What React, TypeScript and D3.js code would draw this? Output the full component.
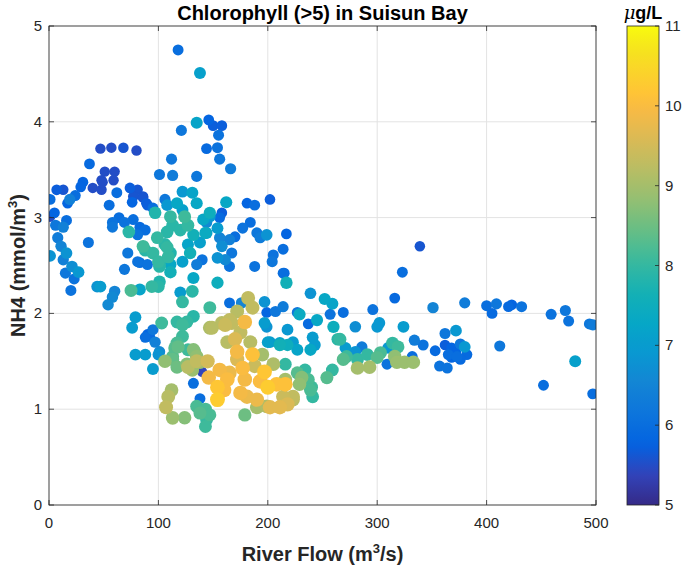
import * as d3 from "d3";

// each point: [river flow (m3/s), NH4 (mmol/m3), chlorophyll (ug/L)]
const highNH4 = [
  [118, 4.75, 6.0], [138, 4.51, 7.1], [135, 3.99, 7.2], [146, 4.02, 5.8], [150, 3.96, 5.7],
  [158, 3.96, 5.7], [155, 3.86, 6.1], [121, 3.91, 6.2], [144, 3.72, 5.9], [154, 3.73, 6.1],
  [156, 3.61, 6.2], [166, 3.51, 6.3], [112, 3.61, 6.2], [101, 3.45, 6.2], [113, 3.44, 6.3],
  [135, 3.43, 6.2],
];

const upperLeft = [
  [47, 3.72, 5.5], [57, 3.73, 5.5], [68, 3.73, 5.6], [80, 3.70, 5.5], [37, 3.56, 5.9],
  [51, 3.48, 5.5], [48, 3.39, 5.5], [60, 3.48, 5.5], [59, 3.39, 5.5], [7, 3.29, 5.7],
  [13, 3.29, 5.6], [31, 3.37, 5.8], [29, 3.32, 5.8], [40, 3.31, 5.5], [48, 3.29, 5.5],
  [49, 3.37, 5.5], [62, 3.26, 6.0], [74, 3.31, 5.7], [81, 3.29, 5.6], [86, 3.22, 5.6],
  [89, 3.15, 5.7], [1, 3.19, 6.0], [24, 3.23, 6.0], [19, 3.19, 6.4], [17, 3.15, 5.8],
  [76, 3.16, 5.8], [55, 3.13, 6.0], [95, 3.10, 6.0], [1, 3.01, 5.5], [5, 3.05, 5.8],
  [16, 2.97, 6.0], [6, 2.92, 6.2], [13, 2.90, 6.4], [64, 3.00, 6.0], [69, 2.95, 6.1],
  [58, 2.90, 6.2], [73, 2.85, 7.9], [88, 2.87, 6.0], [81, 2.82, 6.1], [8, 2.79, 6.3],
  [36, 2.74, 6.1], [1, 2.60, 6.8], [11, 2.70, 6.5], [16, 2.63, 6.8], [13, 2.56, 6.4],
  [72, 2.63, 6.2], [81, 2.54, 6.1], [90, 2.51, 6.1], [21, 2.49, 6.7], [27, 2.43, 6.9],
  [15, 2.42, 6.2], [23, 2.36, 6.1], [69, 2.46, 6.2], [20, 2.24, 6.1], [44, 2.28, 6.8],
  [47, 2.28, 7.0], [75, 2.24, 8.2], [83, 2.25, 7.2], [60, 2.23, 6.5], [58, 2.17, 6.6],
  [54, 2.09, 6.6], [77, 3.22, 5.6], [86, 3.21, 5.6], [90, 3.13, 5.7], [77, 2.98, 6.0],
  [83, 2.90, 5.9], [83, 2.53, 6.0], [58, 2.95, 6.1],
];

const centralCluster = [
  [88, 2.66, 7.9], [95, 2.63, 8.0], [100, 2.54, 8.0], [101, 2.49, 7.9], [111, 2.51, 7.3],
  [109, 2.59, 8.0], [122, 3.27, 6.9], [131, 3.26, 7.2], [135, 3.15, 7.3], [106, 3.19, 6.2],
  [108, 3.13, 6.9], [117, 3.15, 7.3], [122, 3.08, 7.1], [162, 3.16, 7.3], [158, 3.05, 5.7],
  [156, 3.00, 5.9], [97, 3.05, 7.8], [111, 3.01, 8.0], [113, 2.92, 7.9], [124, 3.01, 8.1],
  [127, 2.92, 8.0], [120, 2.87, 7.9], [108, 2.85, 7.9], [86, 2.70, 8.1], [99, 2.79, 8.0],
  [106, 2.72, 7.9], [141, 2.98, 7.3], [144, 2.84, 7.1], [132, 2.82, 7.6], [138, 2.74, 7.1],
  [154, 2.89, 7.0], [156, 2.79, 6.5], [170, 2.80, 6.0], [147, 3.05, 7.5], [108, 2.69, 8.0],
  [111, 2.63, 7.8], [127, 2.72, 7.2], [129, 2.63, 7.6], [101, 2.51, 7.9], [111, 2.43, 7.6],
  [122, 2.54, 7.1], [135, 2.51, 6.3], [140, 2.56, 6.1], [154, 2.58, 6.8], [161, 2.56, 6.6],
  [167, 2.63, 6.2], [132, 2.37, 7.3], [154, 2.32, 7.5], [147, 3.01, 6.9], [144, 2.95, 6.6],
  [143, 2.84, 7.4], [181, 3.15, 5.8], [188, 3.13, 6.0], [202, 3.19, 5.7], [177, 2.89, 6.1],
  [184, 2.95, 6.0], [190, 2.84, 6.2], [193, 2.79, 6.3], [199, 2.82, 6.8], [217, 2.83, 5.8],
  [214, 2.67, 6.0], [205, 2.61, 6.1], [204, 2.54, 6.2], [188, 2.49, 6.1], [214, 2.42, 6.0],
  [158, 2.70, 6.7], [165, 2.49, 6.1], [165, 2.77, 6.4],
];

const lowerLeft = [
  [94, 2.28, 8.0], [100, 2.28, 7.9], [101, 2.33, 7.8], [120, 2.22, 7.0], [131, 2.23, 7.9],
  [122, 2.12, 8.0], [147, 2.06, 8.1], [165, 2.11, 6.0], [79, 1.96, 7.0], [103, 1.90, 8.1],
  [117, 1.91, 8.0], [126, 1.91, 8.0], [132, 1.97, 7.9], [76, 1.85, 7.0], [95, 1.83, 6.2],
  [92, 1.76, 5.9], [88, 1.75, 6.0], [97, 1.70, 6.4], [90, 1.78, 5.8], [101, 1.60, 6.6],
  [122, 1.76, 8.1], [118, 1.65, 8.4], [115, 1.64, 8.3], [127, 1.62, 8.1], [133, 1.60, 8.3],
  [79, 1.57, 7.0], [88, 1.57, 7.0], [100, 1.57, 6.8], [95, 1.42, 7.0], [113, 1.55, 8.3],
  [117, 1.69, 8.2], [122, 1.88, 8.1], [106, 1.50, 8.8], [113, 1.52, 8.4], [117, 1.44, 8.5],
  [126, 1.47, 8.7], [131, 1.41, 8.9], [132, 1.62, 8.7], [135, 1.55, 8.8], [138, 1.49, 8.9],
  [132, 1.27, 6.0], [140, 1.39, 5.4], [138, 1.11, 6.0], [112, 1.20, 9.0], [109, 1.13, 9.2],
  [107, 1.02, 9.3], [113, 0.91, 8.9], [124, 0.91, 8.7], [135, 1.03, 8.2], [138, 0.96, 8.3],
  [143, 1.00, 8.2], [144, 0.89, 8.0], [147, 0.94, 8.2], [143, 0.82, 8.1], [140, 0.96, 8.1],
  [217, 2.32, 7.6],
];

const bloomCore = [
  [182, 2.16, 9.3], [186, 2.06, 9.3], [172, 2.02, 9.2], [165, 1.93, 9.3], [179, 1.91, 9.9],
  [158, 1.90, 9.2], [147, 1.85, 9.1], [175, 1.80, 9.3], [184, 1.70, 9.2], [163, 1.70, 9.2],
  [172, 1.60, 9.9], [186, 1.57, 10.1], [197, 1.39, 10.2], [200, 1.23, 10.3], [208, 1.26, 10.1],
  [216, 1.26, 10.1], [193, 1.29, 10.0], [154, 1.23, 10.2], [154, 1.10, 10.3], [163, 1.31, 10.0],
  [145, 1.50, 9.5], [135, 1.50, 9.3], [127, 1.44, 9.2], [156, 1.41, 9.9], [165, 1.38, 9.8],
  [177, 1.43, 10.0], [172, 1.52, 9.6], [179, 1.31, 9.9], [175, 1.17, 9.9], [181, 1.13, 9.8],
  [190, 1.10, 9.8], [202, 1.02, 9.7], [211, 1.02, 9.7], [218, 1.05, 9.6], [223, 1.13, 9.3],
  [179, 0.94, 8.5], [190, 1.02, 9.0], [199, 1.03, 9.1], [214, 1.13, 9.4], [149, 1.85, 9.2],
  [161, 1.88, 9.4], [167, 1.90, 9.3], [170, 1.73, 9.6], [146, 1.33, 9.9], [160, 1.20, 10.0],
  [188, 1.45, 9.4], [195, 1.57, 9.0], [205, 1.47, 9.1],
];

const midFlow = [
  [176, 2.11, 6.5], [197, 2.12, 6.8], [199, 2.01, 5.8], [207, 2.02, 6.2], [214, 2.07, 6.3],
  [215, 2.42, 5.9], [239, 2.21, 6.8], [252, 2.15, 7.3], [259, 2.10, 7.2], [229, 1.99, 7.4],
  [245, 1.93, 7.3], [237, 1.89, 5.9], [218, 1.83, 6.9], [199, 1.86, 6.8], [257, 1.99, 6.1],
  [260, 1.86, 7.5], [264, 1.73, 7.9], [269, 2.01, 6.0], [280, 1.86, 6.7], [296, 2.04, 6.1],
  [300, 1.86, 6.9], [316, 2.16, 5.9], [241, 1.75, 7.0], [243, 1.67, 7.0], [239, 1.62, 7.3],
  [227, 1.62, 7.2], [218, 1.67, 7.5], [211, 1.67, 7.6], [200, 1.70, 7.1], [266, 1.73, 8.0],
  [271, 1.64, 7.0], [272, 1.55, 8.1], [269, 1.52, 8.3], [280, 1.60, 6.8], [282, 1.52, 8.0],
  [291, 1.57, 8.0], [286, 1.65, 6.3], [293, 1.44, 9.0], [282, 1.43, 9.0], [300, 1.54, 8.3],
  [254, 1.33, 8.3], [259, 1.41, 8.0], [231, 1.33, 8.7], [229, 1.26, 8.8], [234, 1.41, 8.0],
  [237, 1.31, 8.2], [240, 1.23, 8.1], [241, 1.13, 8.0], [239, 1.20, 8.2], [216, 1.47, 8.0],
  [216, 1.31, 9.0], [227, 1.38, 8.3], [227, 2.01, 6.2], [202, 1.70, 7.0], [211, 1.69, 7.2],
  [223, 1.70, 7.0], [197, 1.90, 7.0], [223, 1.10, 9.2],
];

const highFlow = [
  [302, 1.90, 6.9], [310, 1.64, 6.9], [314, 1.69, 8.0], [319, 1.65, 8.1], [316, 1.55, 8.8],
  [318, 1.49, 8.9], [325, 1.49, 8.9], [333, 1.49, 8.9], [332, 1.55, 6.0], [309, 1.47, 6.1],
  [303, 1.59, 8.2], [324, 1.86, 7.0], [334, 1.72, 6.3], [342, 1.67, 6.1], [339, 2.70, 5.6],
  [323, 2.43, 6.0], [351, 2.06, 6.5], [380, 2.11, 6.3], [362, 1.79, 6.2], [372, 1.82, 6.9],
  [353, 1.61, 5.9], [357, 1.45, 6.1], [364, 1.43, 6.1], [362, 1.67, 5.7], [368, 1.64, 5.8],
  [376, 1.68, 6.2], [380, 1.65, 6.9], [382, 1.57, 5.9], [376, 1.52, 5.9], [368, 1.54, 5.8],
  [365, 1.57, 6.0], [372, 1.59, 5.8], [373, 1.55, 6.0], [412, 1.66, 6.2], [400, 2.08, 6.0],
  [409, 2.10, 6.2], [405, 2.00, 5.9], [420, 2.07, 5.9], [423, 2.09, 5.8], [432, 2.07, 6.1],
  [459, 1.99, 6.1], [472, 2.03, 6.2], [475, 1.92, 6.1], [494, 1.89, 6.2], [497, 1.88, 6.3],
  [481, 1.50, 7.1], [452, 1.25, 6.0], [497, 1.16, 6.0],
];

const xTicks = [0, 100, 200, 300, 400, 500];
const yTicks = [0, 1, 2, 3, 4, 5];
const cbTicks = [5, 6, 7, 8, 9, 10, 11];

// parula, sampled from the 64-entry table at these indices
const parulaIdx = [0, 4, 8, 12, 16, 20, 24, 28, 32, 36, 40, 44, 48, 52, 54, 56, 60, 63];
const parulaColors = [
  "#352a87", "#3243ba", "#0363e1", "#0d75dc", "#1485d4", "#0998d1", "#06a7c6", "#15b1b4", "#38b99e",
  "#65be86", "#92bf73", "#b7bd64", "#d9ba56", "#f8ba44", "#ffc337", "#fcce2e", "#f5e41d", "#f9fb0e",
];

const W = 685;
const H = 568;
const plot = { left: 49, right: 596, top: 26, bottom: 505 };
const cb = { left: 627, right: 659, top: 26, bottom: 505 };
const font = "'Liberation Sans', Arial, Helvetica, sans-serif";

export default function App() {
  const x = d3.scaleLinear().domain([0, 500]).range([plot.left, plot.right]);
  const y = d3.scaleLinear().domain([0, 5]).range([plot.bottom, plot.top]);
  const color = d3
    .scaleLinear<string>()
    .domain(parulaIdx.map((i) => 5 + (6 * i) / 63))
    .range(parulaColors)
    .interpolate(d3.interpolateRgb)
    .clamp(true);
  const radius = d3.scaleLinear().domain([5, 11]).range([5.0, 7.8]);
  const cbY = d3.scaleLinear().domain([5, 11]).range([cb.bottom, cb.top]);

  const points = [...highNH4, ...upperLeft, ...centralCluster, ...lowerLeft, ...bloomCore, ...midFlow, ...highFlow]
    .slice()
    .sort((a, b) => a[2] - b[2]);

  const gradStops = d3.range(0, 1.0001, 0.02);
  const axisColor = "#262626";

  return (
    <svg width={W} height={H} style={{ position: "absolute", left: 0, top: 0, background: "#fff" }} fontFamily={font}>
      <defs>
        <linearGradient id="parula" x1="0" y1="1" x2="0" y2="0">
          {gradStops.map((t) => (
            <stop key={t} offset={t} stopColor={color(5 + 6 * t)} />
          ))}
        </linearGradient>
        <clipPath id="plotClip">
          <rect x={plot.left} y={plot.top} width={plot.right - plot.left} height={plot.bottom - plot.top} />
        </clipPath>
      </defs>
      <rect width={W} height={H} fill="#fff" />

      {/* grid */}
      {xTicks.map((t) => (
        <line key={"gx" + t} x1={x(t)} x2={x(t)} y1={plot.top} y2={plot.bottom} stroke="#e3e3e3" strokeWidth={1} />
      ))}
      {yTicks.map((t) => (
        <line key={"gy" + t} x1={plot.left} x2={plot.right} y1={y(t)} y2={y(t)} stroke="#e3e3e3" strokeWidth={1} />
      ))}

      {/* points */}
      <g clipPath="url(#plotClip)">
        {points.map((d, i) => (
          <circle key={i} cx={x(d[0])} cy={y(d[1])} r={radius(d[2])} fill={color(d[2])} />
        ))}
      </g>

      {/* box and ticks */}
      <rect
        x={plot.left}
        y={plot.top}
        width={plot.right - plot.left}
        height={plot.bottom - plot.top}
        fill="none"
        stroke={axisColor}
        strokeWidth={0.8}
      />
      {xTicks.map((t) => (
        <g key={"tx" + t}>
          <line x1={x(t)} x2={x(t)} y1={plot.bottom} y2={plot.bottom - 5} stroke={axisColor} strokeWidth={0.8} />
          <line x1={x(t)} x2={x(t)} y1={plot.top} y2={plot.top + 5} stroke={axisColor} strokeWidth={0.8} />
          <text x={x(t)} y={plot.bottom + 23} textAnchor="middle" fontSize={15} fill={axisColor}>
            {t}
          </text>
        </g>
      ))}
      {yTicks.map((t) => (
        <g key={"ty" + t}>
          <line x1={plot.left} x2={plot.left + 5} y1={y(t)} y2={y(t)} stroke={axisColor} strokeWidth={0.8} />
          <line x1={plot.right} x2={plot.right - 5} y1={y(t)} y2={y(t)} stroke={axisColor} strokeWidth={0.8} />
          <text x={plot.left - 7} y={y(t) + 5} textAnchor="end" fontSize={15} fill={axisColor}>
            {t}
          </text>
        </g>
      ))}

      {/* title and axis labels */}
      <text x={(plot.left + plot.right) / 2} y={20} textAnchor="middle" fontSize={20} fontWeight="bold" fill="#000">
        Chlorophyll (&gt;5) in Suisun Bay
      </text>
      <text x={(plot.left + plot.right) / 2} y={561} textAnchor="middle" fontSize={20} fontWeight="bold" fill="#262626">
        River Flow (m
        <tspan dy={-8} fontSize={13}>3</tspan>
        <tspan dy={8}>/s)</tspan>
      </text>
      <text
        transform={`translate(25, ${(plot.top + plot.bottom) / 2}) rotate(-90)`}
        textAnchor="middle"
        fontSize={20}
        fontWeight="bold"
        fill="#262626"
      >
        NH4 (mmol/m
        <tspan dy={-8} fontSize={13}>3</tspan>
        <tspan dy={8}>)</tspan>
      </text>

      {/* colorbar */}
      <rect x={cb.left} y={cb.top} width={cb.right - cb.left} height={cb.bottom - cb.top} fill="url(#parula)" />
      <rect
        x={cb.left}
        y={cb.top}
        width={cb.right - cb.left}
        height={cb.bottom - cb.top}
        fill="none"
        stroke={axisColor}
        strokeWidth={0.8}
      />
      {cbTicks.map((t) => (
        <g key={"cb" + t}>
          <line x1={cb.right} x2={cb.right - 4} y1={cbY(t)} y2={cbY(t)} stroke={axisColor} strokeWidth={0.8} />
          <text x={cb.right + 6} y={cbY(t) + 5} fontSize={15} fill={axisColor}>
            {t}
          </text>
        </g>
      ))}
      <text x={(cb.left + cb.right) / 2} y={19} textAnchor="middle" fontSize={18} fontWeight="bold" fill="#000">
        <tspan fontStyle="italic" fontWeight="normal" fontFamily="'DejaVu Serif', serif">μ</tspan>g/L
      </text>
    </svg>
  );
}
